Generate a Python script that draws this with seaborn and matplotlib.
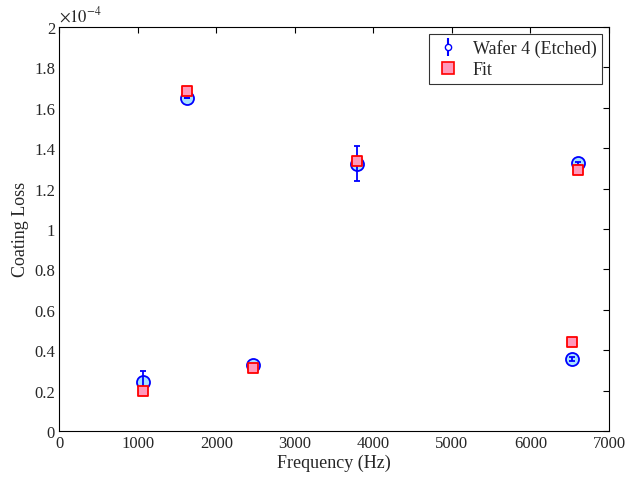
import matplotlib
matplotlib.use("Agg")
import matplotlib.pyplot as plt
import seaborn as sns
import pandas as pd
from matplotlib.lines import Line2D

# Data (coating loss in units of 1e-4)
freq_meas = [1071, 1628, 2469, 3793, 6600, 6533]
loss_meas = [0.241, 1.647, 0.327, 1.322, 1.325, 0.356]
loss_err = [0.057, 0.0, 0.0, 0.087, 0.008, 0.008]
freq_fit = [1071, 1628, 2469, 3793, 6600, 6533]
loss_fit = [0.200, 1.683, 0.310, 1.338, 1.294, 0.439]

xticks = [0, 1000, 2000, 3000, 4000, 5000, 6000, 7000]
yticks = [0, 0.2, 0.4, 0.6, 0.8, 1, 1.2, 1.4, 1.6, 1.8, 2]

sns.set_style("white")
plt.rcParams['font.family'] = ['Liberation Serif', 'DejaVu Serif']
plt.rcParams['mathtext.fontset'] = 'stix'

fig = plt.figure(figsize=(6.37, 4.81), dpi=100)
ax = fig.add_axes([0.093, 0.102, 0.863, 0.840])

df_meas = pd.DataFrame({"f": freq_meas, "l": loss_meas, "e": loss_err})
df_fit = pd.DataFrame({"f": freq_fit, "l": loss_fit})

sns.scatterplot(data=df_meas, x="f", y="l", marker="o", s=88,
                color="#a6e2ff", edgecolor="#0000ff", linewidth=1.3,
                ax=ax, zorder=3, legend=False)
ax.errorbar(df_meas["f"], df_meas["l"], yerr=df_meas["e"], fmt="none",
            ecolor="#0000ff", elinewidth=1.3, capsize=2.5, capthick=1.3, zorder=4)
sns.scatterplot(data=df_fit, x="f", y="l", marker="s", s=55,
                color="#ff99bb", edgecolor="#ff0000", linewidth=1.3,
                ax=ax, zorder=5, legend=False)

ax.set_xlim(0, 7000)
ax.set_ylim(0, 2)
ax.set_xticks(xticks)
ax.set_yticks(yticks)
ax.set_xticklabels([str(v) for v in xticks])
ax.set_yticklabels(["%g" % v for v in yticks])
ax.tick_params(direction="in", top=True, right=True, length=4, width=0.8,
               labelsize=12, color="black", pad=3)
for s in ax.spines.values():
    s.set_color("black")
    s.set_linewidth(0.8)

ax.set_xlabel("Frequency (Hz)", fontsize=13, labelpad=2)
ax.set_ylabel("Coating Loss", fontsize=13, labelpad=4)
ax.text(0.0, 1.005, r"$\times10^{-4}$", transform=ax.transAxes, fontsize=12,
        ha="left", va="bottom")

eb = ax.errorbar([], [], yerr=[], fmt="o", color="#0000ff", markersize=4.5,
                 markerfacecolor="white", capsize=2.5)
h2 = Line2D([], [], marker="s", markersize=8, markerfacecolor="#ff99bb",
            markeredgecolor="#ff0000", linestyle="none", markeredgewidth=1.2)
leg = ax.legend([eb, h2], ["Wafer 4 (Etched)", "Fit"], loc="upper right",
                fontsize=13, frameon=True, fancybox=False, borderaxespad=0.4,
                handletextpad=0.6, borderpad=0.3, labelspacing=0.2,
                handlelength=1.5)
leg.get_frame().set_edgecolor("black")
leg.get_frame().set_linewidth(0.8)

fig.savefig("out.png", dpi=100)
